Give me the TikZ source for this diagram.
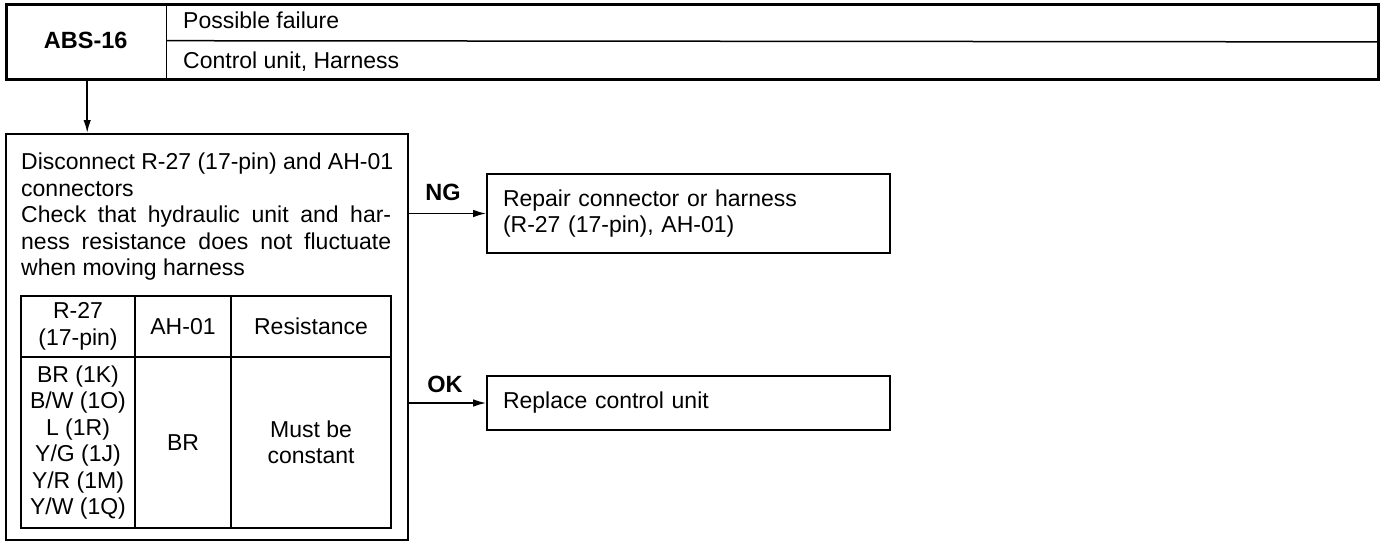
\documentclass[tikz,border=0pt]{standalone}
\usepackage{fontspec}
\setmainfont{Liberation Sans}
\usetikzlibrary{arrows.meta}
\tikzset{
  txt/.style={font=\fontsize{23}{26.5}\selectfont, inner sep=0pt},
  bold/.style={font=\fontsize{23.5}{26.5}\selectfont\bfseries, inner sep=0pt},
  frame/.style={draw, line width=1.6pt, inner sep=0pt},
  cell/.style={draw, line width=2.2pt, inner sep=0pt, align=center, font=\fontsize{23}{26.5}\selectfont},
  conn/.style={line width=1.6pt, -{Latex[length=13pt,width=7.5pt]}},
  divider/.style={line width=1.5pt}
}
\begin{document}
\begin{tikzpicture}[x=1pt,y=-1pt]
\useasboundingbox (0,0) rectangle (1392,544);
% header
\node[draw, line width=2.8pt, inner sep=0pt, minimum width=1372pt, minimum height=75pt, anchor=north west] (hdr) at (5,3) {};
\node[bold, minimum width=161pt, minimum height=75pt, anchor=north west] (abs) at (5,3) {ABS-16};
\draw[divider] (abs.north east) -- (abs.south east);
\draw[divider] (abs.east) -- (hdr.east);
\node[txt, anchor=base west] (pf) at (183,28) {Possible failure};
\node[txt, anchor=base west] (cu) at (183,68) {Control unit, Harness};
% main box
\node[draw, line width=2.2pt, inner sep=0pt, minimum width=402pt, minimum height=406pt, anchor=north west] (main) at (5,133) {};
\draw[conn] ([xshift=1.5pt]abs.south) -- ([xshift=1.5pt]abs.south |- main.north);
\node[txt, anchor=north west, align=left] (para) at (21,153) {Disconnect R-27 (17-pin) and AH-01\\connectors\\\hbox to 370pt{Check that hydraulic unit and har-}\\\hbox to 370pt{ness resistance does not fluctuate}\\when moving harness};
% table
\node[cell, minimum width=114pt, minimum height=61pt] (c11) at (78,326.5) {R-27\\(17-pin)};
\node[cell, minimum width=96pt, minimum height=61pt] (c12) at (183,326.5) {AH-01};
\node[cell, minimum width=160pt, minimum height=61pt] (c13) at (311,326.5) {Resistance};
\node[cell, minimum width=114pt, minimum height=171pt] (c21) at (78,442.5) {BR (1K)\\B/W (1O)\\L (1R)\\Y/G (1J)\\Y/R (1M)\\Y/W (1Q)};
\node[cell, minimum width=96pt, minimum height=171pt] (c22) at (183,442.5) {BR};
\node[cell, minimum width=160pt, minimum height=171pt] (c23) at (311,442.5) {Must be\\constant};
% results
\node[frame, txt, minimum width=403pt, minimum height=79pt, text width=371pt, inner xsep=16pt, align=left] (repair) at (688.5,213.5) {Repair connector or harness\\(R-27 (17-pin), AH-01)};
\node[frame, txt, minimum width=403pt, minimum height=54pt, text width=371pt, inner xsep=16pt, align=left] (replace) at (688.5,403) {Replace control unit};
\draw[conn] (main.east |- repair.west) -- (repair.west);
\draw[conn] (main.east |- replace.west) -- (replace.west);
\node[bold] (ng) at (443,192) {NG};
\node[bold] (ok) at (445,384) {OK};
\end{tikzpicture}
\end{document}
